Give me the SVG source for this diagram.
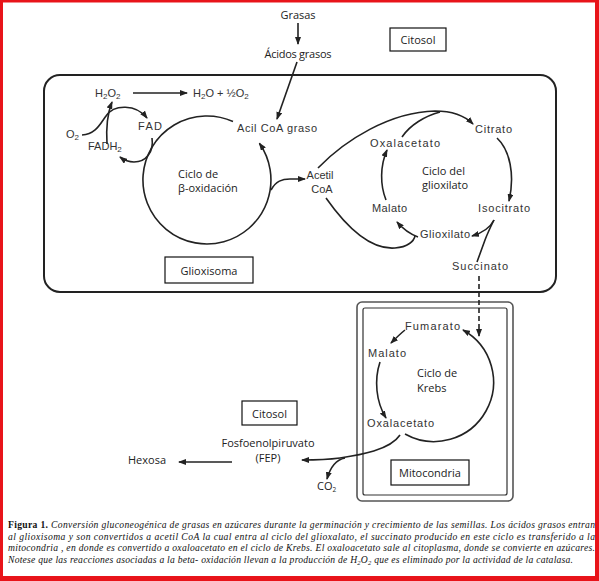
<svg xmlns="http://www.w3.org/2000/svg" width="599" height="581" viewBox="0 0 599 581">
<defs>
<marker id="ah" markerWidth="8" markerHeight="6" refX="7" refY="3" orient="auto" markerUnits="userSpaceOnUse">
<path d="M0,0 L8,3 L0,6 Z" fill="#222"/>
</marker>
<style>
.ln{fill:none;stroke:#222;stroke-width:1.6}
.ar{fill:none;stroke:#222;stroke-width:1.6;marker-end:url(#ah)}
.bx{fill:#fff;stroke:#111;stroke-width:1.2}
.s{font-family:"Open Sans","Noto Sans",sans-serif;font-size:11px;fill:#222}
.sc{font-family:"Liberation Sans",Arial,sans-serif;font-size:11px;fill:#333}
.cap{font-family:"Liberation Serif","Times New Roman",serif;font-size:9.6px;font-style:italic;fill:#111}
.sub{font-size:8px}
</style>
</defs>
<rect x="0" y="0" width="599" height="581" fill="#e8141a"/>
<rect x="3" y="2.5" width="592" height="573.5" fill="#fff"/>

<g id="glioxisoma">
<rect x="44" y="75" width="512" height="217" rx="16" fill="none" stroke="#222" stroke-width="2"/>
<rect class="bx" x="165" y="257" width="88" height="26"/>
<text class="s" x="209" y="275" text-anchor="middle">Glioxisoma</text>
</g>

<g id="citosol-top">
<rect class="bx" x="390" y="28" width="56" height="23"/>
<text class="s" x="418" y="44" text-anchor="middle">Citosol</text>
</g>

<g id="grasas"><text class="s" x="298" y="19" text-anchor="middle">Grasas</text></g>
<g id="acidos"><text class="s" x="298" y="58" text-anchor="middle" textLength="67">Ácidos grasos</text></g>

<g id="h2o2"><text class="sc" x="95" y="97">H<tspan class="sub" dy="2">2</tspan><tspan dy="-2">O</tspan><tspan class="sub" dy="2">2</tspan></text></g>
<g id="h2o"><text class="sc" x="193" y="97">H<tspan class="sub" dy="2">2</tspan><tspan dy="-2">O + ½O</tspan><tspan class="sub" dy="2">2</tspan></text></g>
<g id="o2"><text class="sc" x="66" y="138">O<tspan class="sub" dy="2">2</tspan></text></g>
<g id="fad"><text class="sc" x="138" y="130" textLength="24">FAD</text></g>
<g id="fadh2"><text class="sc" x="88" y="150">FADH<tspan class="sub" dy="2">2</tspan></text></g>
<g id="acilcoa"><text class="sc" x="237" y="132" textLength="80">Acil CoA  graso</text></g>

<g id="beta-ox">
<path class="ar" d="M233,121.5 A64,64 0 1 0 259.4,143.3"/>
<text class="s" x="178" y="178">Ciclo de</text>
<text class="s" x="178" y="192">β-oxidación</text>
</g>

<g id="acetilcoa">
<text class="sc" x="320" y="179" text-anchor="middle" font-size="10">Acetil</text>
<text class="sc" x="322" y="193" text-anchor="middle" font-size="10">CoA</text>
</g>

<g id="glioxilato-cycle">
<text class="s" x="422" y="175">Ciclo del</text>
<text class="s" x="422" y="189">glioxilato</text>
</g>
<g id="oxalacetato"><text class="sc" x="370" y="147" textLength="70">Oxalacetato</text></g>
<g id="citrato"><text class="sc" x="475" y="133" textLength="37">Citrato</text></g>
<g id="malato"><text class="sc" x="372" y="212" textLength="35">Malato</text></g>
<g id="isocitrato"><text class="sc" x="478" y="212" textLength="52">Isocitrato</text></g>
<g id="glioxilato"><text class="sc" x="420" y="238" textLength="50">Glioxilato</text></g>
<g id="succinato"><text class="sc" x="452" y="270" textLength="56">Succinato</text></g>

<g id="mitocondria">
<rect x="357" y="302" width="156" height="199" rx="5" fill="none" stroke="#555" stroke-width="1.6"/>
<rect x="363" y="308" width="144" height="187" rx="2" fill="none" stroke="#333" stroke-width="1.2"/>
<rect class="bx" x="391" y="460" width="78" height="25"/>
<text class="s" x="430" y="477" text-anchor="middle">Mitocondria</text>
<text class="s" x="417" y="377">Ciclo de</text>
<text class="s" x="417" y="392">Krebs</text>
</g>
<g id="fumarato"><text class="sc" x="405" y="330" textLength="55">Fumarato</text></g>
<g id="malato-k"><text class="sc" x="368" y="357" textLength="38">Malato</text></g>
<g id="oxalacetato-k"><text class="sc" x="367" y="427" textLength="67">Oxalacetato</text></g>

<g id="citosol-bottom">
<rect class="bx" x="242" y="401" width="55" height="24"/>
<text class="s" x="269.5" y="418" text-anchor="middle">Citosol</text>
</g>
<g id="fep">
<text class="s" x="268" y="447" text-anchor="middle" font-size="12.5">Fosfoenolpiruvato</text>
<text class="s" x="268" y="462" text-anchor="middle" font-size="12.5">(FEP)</text>
</g>
<g id="hexosa"><text class="s" x="128" y="464">Hexosa</text></g>
<g id="co2"><text class="s" x="317" y="490" font-size="10">CO<tspan font-size="6.5" dy="2">2</tspan></text></g>

<g id="connectors">
<line class="ar" x1="298" y1="23" x2="298" y2="44"/>
<line class="ar" x1="297" y1="62" x2="277" y2="119"/>
<line class="ar" x1="133" y1="93" x2="187" y2="93"/>
<path class="ar" d="M82,135 C96,134 100,124 106,116 C114,104 136,104 147,118"/>
<path class="ar" d="M107,144 C106,128 108,112 112,102"/>
<path class="ar" d="M152,138 C154,152 146,162 134,162 C128,162 124,160 120,157"/>
<path class="ar" d="M271,190 C276,181 282,179 290,179 L305,179"/>
<path class="ar" d="M318,168 C345,140 390,112 435,111 C452,111 465,116 473,124"/>
<path class="ln" d="M402,137 C410,125 425,116 440,112"/>
<path class="ln" d="M326,198 C345,225 370,250 395,248 C408,247 414,241 415,236"/>
<path class="ar" d="M418,237 C410,234 403,229 397,222"/>
<path class="ar" d="M386,200 C380,185 380,166 387,150"/>
<path class="ar" d="M497,138 C510,150 515,175 509,201"/>
<path class="ar" d="M494,220 C490,228 482,233 472,236"/>
<path class="ln" d="M477,262 L485,240 C488,232 491,226 494,220"/>
<line class="ar" x1="479" y1="276" x2="479" y2="336" stroke-dasharray="5,3"/>
<path class="ar" d="M405,434 A59,59 0 1 0 463,330"/>
<path class="ar" d="M405,330 C400,334 396,338 391,343"/>
<path class="ar" d="M380,362 C374,380 376,402 386,418"/>
<path class="ar" d="M400,435 C390,450 360,455 340,458 C325,460 315,460 302,460"/>
<path class="ar" d="M345,458 C335,460 330,468 327,479"/>
<line class="ar" x1="232" y1="462" x2="179" y2="462"/>
</g>

<g id="caption">
<text class="cap" x="8" y="528" textLength="587" lengthAdjust="spacing"><tspan font-weight="bold" font-style="normal">Figura 1.</tspan>  Conversión gluconeogénica de grasas en azúcares durante la germinación  y crecimiento de las semillas. Los ácidos grasos entran</text>
<text class="cap" x="8" y="540" textLength="587" lengthAdjust="spacing">al glioxisoma y son convertidos a acetil CoA la cual entra al ciclo del glioxalato, el succinato producido en este ciclo es transferido a la</text>
<text class="cap" x="8" y="551" textLength="587" lengthAdjust="spacing">mitocondria , en donde es convertido a oxaloacetato  en el ciclo de Krebs. El oxaloacetato sale al citoplasma, donde se convierte en azúcares.</text>
<text class="cap" x="8" y="563" textLength="565" lengthAdjust="spacing">Notese que las reacciones asociadas a la beta- oxidación llevan a la producción de H<tspan font-size="6.5" dy="1.5">2</tspan><tspan dy="-1.5">O</tspan><tspan font-size="6.5" dy="1.5">2</tspan><tspan dy="-1.5"> que es eliminado por la actividad de la catalasa.</tspan></text>
</g>
</svg>
